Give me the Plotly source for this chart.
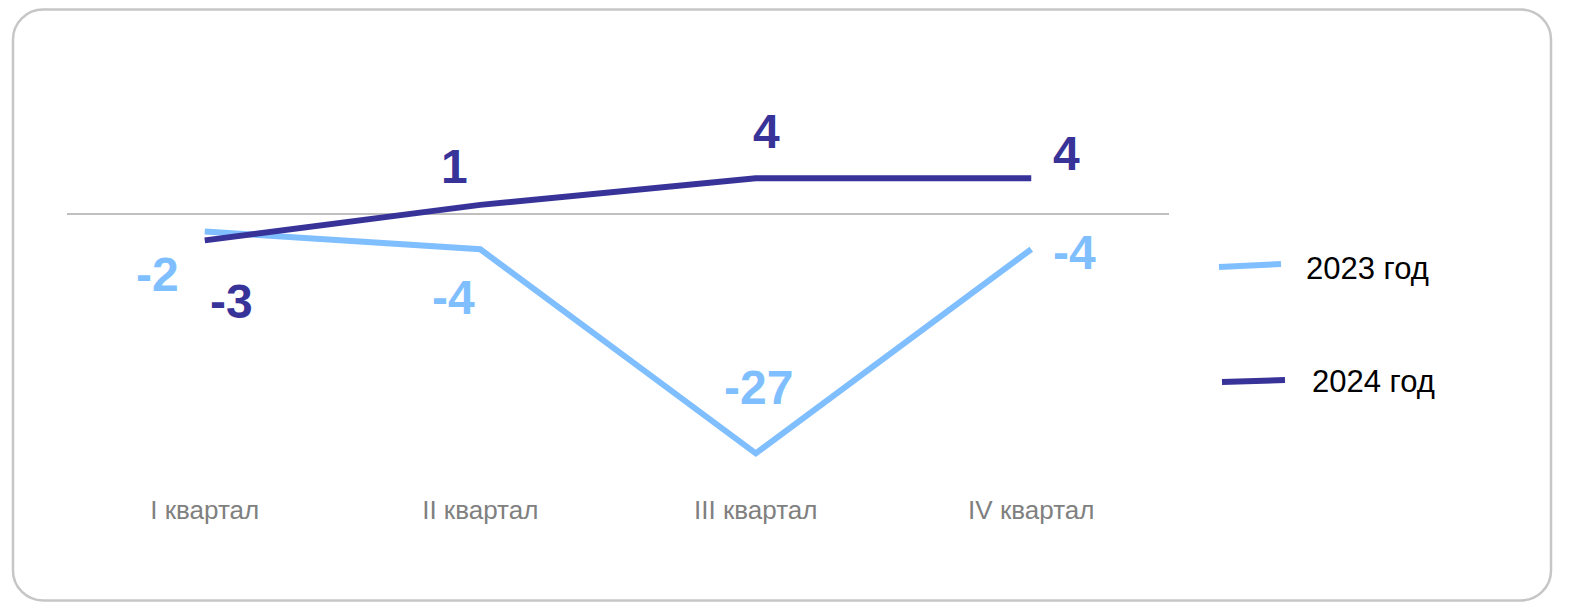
import plotly.graph_objects as go

quarters = ["I квартал", "II квартал", "III квартал", "IV квартал"]
values_2023 = [-2, -4, -27, -4]
values_2024 = [-3, 1, 4, 4]
series_names = ["2023 год", "2024 год"]

# label offsets (px) relative to each point: (xshift, yshift)
offsets_2023 = [(-47, -43), (-27, -48), (3, 66), (43, -3)]
offsets_2024 = [(27, -61), (-26, 38), (11, 47), (35, 25)]

LIGHT = "#80bfff"
DARK = "#383399"
FONT = "Liberation Sans, Arial, sans-serif"

# page has an 8px body margin; figure sits at (8, 8)
OFF = 8
W, H = 1569 - 2 * OFF, 610 - 2 * OFF
L, T = 67 - OFF, 125 - OFF
R = W - (1169 - OFF)
B = H - (480 - OFF)
PW, PH = W - L - R, H - T - B


def px(x):
    # page pixel -> paper fraction
    return (x - OFF - L) / PW


def py(y):
    return (H - B - (y - OFF)) / PH


def rounded_box(x0, y0, x1, y1, r):
    k = 0.552 * r
    pts = [
        f"M{px(x0 + r)},{py(y0)}",
        f"L{px(x1 - r)},{py(y0)}",
        f"C{px(x1 - r + k)},{py(y0)} {px(x1)},{py(y0 + r - k)} {px(x1)},{py(y0 + r)}",
        f"L{px(x1)},{py(y1 - r)}",
        f"C{px(x1)},{py(y1 - r + k)} {px(x1 - r + k)},{py(y1)} {px(x1 - r)},{py(y1)}",
        f"L{px(x0 + r)},{py(y1)}",
        f"C{px(x0 + r - k)},{py(y1)} {px(x0)},{py(y1 - r + k)} {px(x0)},{py(y1 - r)}",
        f"L{px(x0)},{py(y0 + r)}",
        f"C{px(x0)},{py(y0 + r - k)} {px(x0 + r - k)},{py(y0)} {px(x0 + r)},{py(y0)}",
        "Z",
    ]
    return " ".join(pts)


fig = go.Figure()
for name, vals, color in [(series_names[0], values_2023, LIGHT), (series_names[1], values_2024, DARK)]:
    fig.add_trace(
        go.Scatter(
            x=quarters, y=vals, mode="lines", name=name,
            line=dict(color=color, width=6), showlegend=False,
        )
    )

annotations = []
for vals, offs, color in [(values_2023, offsets_2023, LIGHT), (values_2024, offsets_2024, DARK)]:
    for q, v, (dx, dy) in zip(quarters, vals, offs):
        annotations.append(dict(
            x=q, y=v, text=f"<b>{v}</b>", showarrow=False, xshift=dx, yshift=dy,
            font=dict(family=FONT, size=48, color=color),
        ))

# legend: lines + labels
legend_items = [
    (series_names[0], LIGHT, (1219, 267, 1281, 264), (1304, 268)),
    (series_names[1], DARK, (1222, 382, 1285, 380), (1310, 381)),
]
shapes = [
    dict(type="path", xref="paper", yref="paper", path=rounded_box(13, 9.5, 1551, 600.5, 30),
         line=dict(color="#c6c6c6", width=2.5), layer="below"),
]
for name, color, (x0, y0, x1, y1), (tx, ty) in legend_items:
    shapes.append(dict(type="line", xref="paper", yref="paper",
                       x0=px(x0), y0=py(y0), x1=px(x1), y1=py(y1),
                       line=dict(color=color, width=6)))
    annotations.append(dict(xref="paper", yref="paper", x=px(tx), y=py(ty), text=name,
                            xanchor="left", yanchor="middle", showarrow=False,
                            font=dict(family=FONT, size=31, color="#000000")))

fig.update_layout(
    width=W, height=H,
    paper_bgcolor="white", plot_bgcolor="white",
    margin=dict(l=L, r=R, t=T, b=B),
    font=dict(family=FONT),
    xaxis=dict(
        range=[-0.5, 3.5], showgrid=False, showline=False, zeroline=False,
        tickfont=dict(size=26, color="#808080"), ticklabelstandoff=12,
    ),
    yaxis=dict(
        range=[-30, 10], showgrid=False, showticklabels=False,
        zeroline=True, zerolinecolor="#bfbfbf", zerolinewidth=2,
    ),
    shapes=shapes,
    annotations=annotations,
)

fig.write_html("out.html")
